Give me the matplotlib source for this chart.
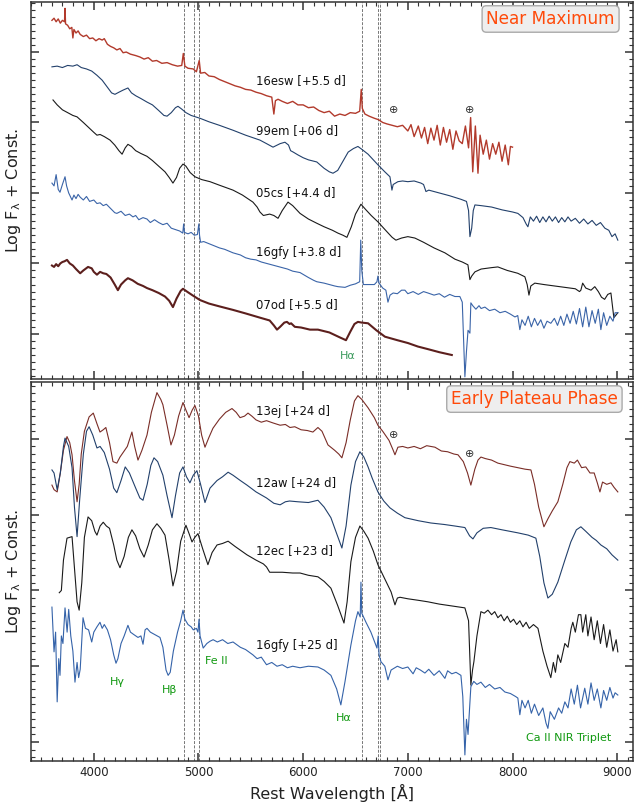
import matplotlib
matplotlib.use('Agg')
import matplotlib.pyplot as plt
from matplotlib.ticker import MultipleLocator

# ---- Near maximum spectra (wavelength [A], log flux + const) ----
esw16_wave = [3600, 3620, 3640, 3660, 3680, 3700, 3720, 3725, 3730, 3750, 3770, 3790, 3800, 3810, 3830,
              3850, 3870, 3900, 3930, 3960, 3990, 4020, 4050, 4080, 4100, 4130, 4160, 4190, 4220, 4250,
              4280, 4310, 4350, 4400, 4440, 4480, 4520, 4560, 4600, 4650, 4700, 4750, 4800, 4840, 4855,
              4870, 4900, 4950, 4980, 5007, 5020, 5060, 5100, 5150, 5200, 5250, 5300, 5350, 5400, 5450,
              5500, 5550, 5600, 5650, 5700, 5720, 5735, 5760, 5800, 5850, 5900, 5950, 6000, 6050, 6100,
              6150, 6200, 6250, 6300, 6350, 6400, 6450, 6500, 6540, 6555, 6565, 6590, 6630, 6680, 6720,
              6760, 6800, 6850, 6900, 6950, 7000, 7030, 7060, 7100, 7130, 7160, 7190, 7220, 7250, 7280,
              7310, 7340, 7370, 7400, 7430, 7460, 7490, 7520, 7550, 7580, 7600, 7620, 7645, 7670, 7690,
              7720, 7750, 7780, 7810, 7840, 7870, 7900, 7930, 7960, 7980, 8000]
esw16_flux = [4.45, 4.48, 4.43, 4.47, 4.41, 4.45, 4.43, 4.62, 4.40, 4.38, 4.33, 4.35, 4.20, 4.32, 4.27,
              4.30, 4.25, 4.22, 4.24, 4.19, 4.20, 4.16, 4.19, 4.17, 4.19, 4.11, 4.08, 4.06, 4.03, 4.05,
              3.99, 4.00, 3.97, 3.95, 3.93, 3.90, 3.92, 3.87, 3.88, 3.84, 3.85, 3.82, 3.80, 3.81, 3.98,
              3.80, 3.77, 3.76, 3.72, 3.88, 3.70, 3.71, 3.66, 3.65, 3.61, 3.58, 3.55, 3.52, 3.50, 3.47,
              3.46, 3.43, 3.41, 3.38, 3.36, 3.12, 3.31, 3.33, 3.30, 3.27, 3.30, 3.25, 3.25, 3.21, 3.22,
              3.17, 3.14, 3.16, 3.09, 3.12, 3.10, 3.14, 3.13, 3.16, 3.47, 3.20, 3.12, 3.09, 3.06, 3.04,
              3.00, 2.98, 2.96, 2.94, 2.96, 2.88, 2.97, 2.80, 2.95, 2.78, 2.93, 2.70, 2.92, 2.75, 2.96,
              2.68, 2.93, 2.72, 2.90, 2.62, 2.88, 2.74, 2.70, 2.95, 2.64, 3.07, 2.30, 2.95, 2.28, 2.82,
              2.55, 2.75, 2.48, 2.70, 2.55, 2.72, 2.45, 2.68, 2.40, 2.66, 2.65]

em99_wave = [3600, 3650, 3700, 3750, 3800, 3840, 3880, 3930, 3980, 4030, 4080, 4130, 4170, 4202, 4240,
             4280, 4326, 4360, 4400, 4450, 4508, 4560, 4620, 4670, 4700, 4740, 4780, 4804, 4840, 4880,
             4930, 5014, 5100, 5200, 5330, 5450, 5587, 5650, 5712, 5780, 5826, 5860, 5880, 5905, 5950,
             6000, 6050, 6130, 6200, 6250, 6285, 6330, 6380, 6430, 6480, 6523, 6560, 6620, 6714, 6780,
             6829, 6848, 6860, 6905, 6950, 7000, 7060, 7125, 7150, 7173, 7200, 7300, 7400, 7507, 7560,
             7580, 7593, 7610, 7625, 7641, 7700, 7800, 7900, 8000, 8051, 8100, 8130, 8147, 8170, 8200,
             8230, 8260, 8290, 8320, 8350, 8380, 8410, 8440, 8470, 8500, 8530, 8560, 8600, 8640, 8680,
             8720, 8760, 8800, 8840, 8882, 8920, 8950, 8980, 9006]
em99_flux = [3.79, 3.80, 3.78, 3.81, 3.80, 3.82, 3.78, 3.76, 3.73, 3.67, 3.60, 3.50, 3.42, 3.40, 3.43,
             3.46, 3.49, 3.42, 3.38, 3.34, 3.29, 3.25, 3.17, 3.10, 3.09, 3.14, 3.21, 3.23, 3.19, 3.14,
             3.10, 3.06, 3.01, 2.96, 2.89, 2.82, 2.75, 2.70, 2.65, 2.70, 2.72, 2.68, 2.60, 2.58, 2.54,
             2.50, 2.47, 2.44, 2.35, 2.30, 2.28, 2.32, 2.45, 2.58, 2.63, 2.66, 2.62, 2.55, 2.40, 2.30,
             2.23, 2.04, 2.12, 2.16, 2.17, 2.16, 2.17, 2.14, 2.12, 2.02, 2.04, 2.00, 1.96, 1.91, 1.88,
             1.75, 1.38, 1.50, 1.75, 1.83, 1.82, 1.80, 1.76, 1.73, 1.71, 1.65, 1.56, 1.52, 1.66, 1.60,
             1.67, 1.58, 1.66, 1.59, 1.67, 1.60, 1.66, 1.58, 1.65, 1.59, 1.66, 1.60, 1.64, 1.57, 1.63,
             1.56, 1.61, 1.54, 1.58, 1.50, 1.47, 1.38, 1.42, 1.33]

cs05_wave = [3610, 3650, 3700, 3750, 3800, 3840, 3900, 3950, 4000, 4030, 4060, 4100, 4155, 4200, 4240,
             4270, 4300, 4326, 4360, 4400, 4450, 4508, 4560, 4620, 4680, 4720, 4756, 4790, 4820, 4852,
             4880, 4920, 4966, 5030, 5110, 5200, 5330, 5420, 5520, 5560, 5587, 5620, 5680, 5720, 5760,
             5800, 5855, 5900, 5970, 6050, 6130, 6200, 6280, 6332, 6380, 6418, 6460, 6500, 6552, 6600,
             6650, 6714, 6800, 6850, 6886, 6940, 7000, 7067, 7150, 7250, 7354, 7450, 7520, 7574, 7593,
             7610, 7641, 7700, 7800, 7860, 7950, 8050, 8118, 8140, 8157, 8175, 8213, 8300, 8400, 8500,
             8600, 8640, 8653, 8670, 8700, 8750, 8786, 8820, 8850, 8880, 8910, 8940, 8968, 8985, 9006]
cs05_flux = [3.32, 3.25, 3.18, 3.14, 3.10, 3.08, 3.00, 2.93, 2.86, 2.82, 2.83, 2.80, 2.75, 2.68, 2.60,
             2.55, 2.64, 2.69, 2.66, 2.60, 2.56, 2.52, 2.46, 2.38, 2.30, 2.22, 2.14, 2.22, 2.35, 2.41,
             2.38, 2.29, 2.23, 2.19, 2.16, 2.11, 2.04, 1.97, 1.87, 1.80, 1.73, 1.68, 1.70, 1.68, 1.64,
             1.75, 1.87, 1.82, 1.71, 1.63, 1.57, 1.52, 1.47, 1.43, 1.40, 1.37, 1.52, 1.70, 1.84, 1.76,
             1.68, 1.59, 1.45, 1.37, 1.33, 1.36, 1.38, 1.36, 1.30, 1.22, 1.15, 1.06, 1.02, 0.98, 0.77,
             0.82, 0.88, 0.92, 0.94, 0.95, 0.90, 0.86, 0.81, 0.70, 0.55, 0.68, 0.72, 0.70, 0.68, 0.66,
             0.64, 0.60, 0.62, 0.72, 0.65, 0.62, 0.67, 0.60, 0.52, 0.49, 0.56, 0.58, 0.23, 0.26, 0.30]

gfy16a_wave = [3600, 3620, 3640, 3660, 3677, 3700, 3725, 3740, 3760, 3792, 3810, 3830, 3850, 3870, 3900,
               3930, 3960, 4000, 4030, 4060, 4090, 4120, 4160, 4200, 4220, 4260, 4300, 4340, 4374, 4400,
               4430, 4470, 4508, 4540, 4580, 4620, 4660, 4700, 4740, 4780, 4820, 4850, 4858, 4866, 4900,
               4930, 4960, 4990, 5003, 5010, 5020, 5050, 5100, 5150, 5200, 5250, 5330, 5400, 5450, 5500,
               5550, 5600, 5650, 5700, 5750, 5800, 5850, 5900, 5970, 6050, 6100, 6130, 6200, 6250, 6300,
               6332, 6400, 6450, 6500, 6540, 6550, 6560, 6575, 6620, 6680, 6705, 6714, 6725, 6760, 6790,
               6810, 6830, 6860, 6900, 6940, 6972, 7000, 7050, 7100, 7150, 7192, 7250, 7300, 7350, 7400,
               7450, 7497, 7520, 7545, 7560, 7575, 7593, 7602, 7620, 7650, 7680, 7700, 7736, 7780, 7830,
               7880, 7930, 7980, 8023, 8050, 8070, 8090, 8120, 8150, 8180, 8210, 8240, 8270, 8300, 8330,
               8366, 8400, 8430, 8460, 8490, 8520, 8550, 8580, 8610, 8640, 8670, 8700, 8730, 8760, 8790,
               8820, 8844, 8870, 8900, 8930, 8960, 8980, 9006]
gfy16a_flux = [2.14, 2.10, 2.26, 2.05, 2.01, 2.12, 2.23, 2.10, 2.00, 1.90, 1.97, 1.92, 1.98, 1.94, 1.90,
               1.95, 1.88, 1.90, 1.85, 1.86, 1.82, 1.84, 1.78, 1.72, 1.71, 1.74, 1.68, 1.70, 1.66, 1.68,
               1.62, 1.65, 1.63, 1.58, 1.62, 1.58, 1.55, 1.57, 1.50, 1.48, 1.46, 1.43, 1.56, 1.44, 1.42,
               1.44, 1.40, 1.41, 1.56, 1.40, 1.30, 1.31, 1.28, 1.25, 1.22, 1.20, 1.15, 1.12, 1.08, 1.06,
               1.05, 1.02, 1.00, 0.98, 0.96, 0.94, 0.92, 0.89, 0.87, 0.80, 0.76, 0.74, 0.72, 0.70, 0.68,
               0.67, 0.66, 0.69, 0.71, 0.74, 1.33, 0.90, 0.70, 0.70, 0.70, 0.74, 0.82, 0.72, 0.65, 0.62,
               0.45, 0.55, 0.58, 0.57, 0.62, 0.62, 0.57, 0.60, 0.56, 0.60, 0.58, 0.55, 0.57, 0.52, 0.56,
               0.53, 0.53, 0.45, -0.61, -0.25, 0.05, 0.01, 0.44, 0.40, 0.35, 0.40, 0.36, 0.38, 0.33, 0.35,
               0.30, 0.32, 0.28, 0.24, 0.26, 0.06, 0.20, 0.12, 0.25, 0.10, 0.22, 0.12, 0.20, 0.08, 0.18,
               0.15, 0.22, 0.12, 0.25, 0.12, 0.28, 0.15, 0.32, 0.14, 0.36, 0.10, 0.38, 0.10, 0.33, 0.15,
               0.35, 0.06, 0.30, 0.12, 0.25, 0.18, 0.30, 0.30]

od07_wave = [3600, 3620, 3640, 3660, 3680, 3700, 3720, 3744, 3770, 3800, 3830, 3870, 3900, 3945, 3980,
             4000, 4030, 4060, 4090, 4120, 4160, 4200, 4230, 4260, 4300, 4326, 4370, 4420, 4470, 4508,
             4560, 4620, 4680, 4720, 4756, 4790, 4830, 4852, 4890, 4940, 5014, 5100, 5200, 5330, 5450,
             5587, 5680, 5720, 5750, 5780, 5820, 5845, 5870, 5885, 5920, 5980, 6065, 6141, 6250, 6350,
             6409, 6450, 6490, 6523, 6560, 6620, 6700, 6781, 6900, 7000, 7096, 7200, 7300, 7420]
od07_flux = [0.97, 0.95, 0.99, 0.96, 1.00, 1.02, 1.03, 1.05, 1.00, 0.97, 0.92, 0.86, 0.90, 0.95, 0.93,
             0.88, 0.84, 0.88, 0.86, 0.85, 0.80, 0.70, 0.62, 0.70, 0.76, 0.79, 0.76, 0.71, 0.68, 0.65,
             0.62, 0.58, 0.53, 0.47, 0.38, 0.50, 0.61, 0.64, 0.60, 0.55, 0.48, 0.43, 0.39, 0.34, 0.29,
             0.23, 0.19, 0.12, 0.06, 0.10, 0.16, 0.17, 0.14, 0.15, 0.10, 0.09, 0.06, 0.06, 0.02, -0.05,
             -0.09, 0.03, 0.14, 0.17, 0.16, 0.15, 0.05, -0.04, -0.09, -0.13, -0.18, -0.22, -0.26, -0.30]

# ---- Early plateau spectra ----
ej13_wave = [3600, 3620, 3650, 3680, 3710, 3744, 3770, 3792, 3815, 3840, 3860, 3880, 3910, 3955, 3995,
             4030, 4059, 4090, 4115, 4150, 4183, 4220, 4250, 4280, 4320, 4364, 4390, 4422, 4460, 4508,
             4550, 4603, 4640, 4660, 4700, 4737, 4770, 4810, 4852, 4880, 4910, 4940, 4966, 5000, 5030,
             5062, 5100, 5138, 5200, 5260, 5320, 5360, 5397, 5440, 5473, 5510, 5550, 5600, 5650, 5712,
             5780, 5830, 5874, 5920, 5980, 6040, 6093, 6141, 6180, 6237, 6300, 6340, 6370, 6410, 6450,
             6490, 6523, 6560, 6620, 6680, 6714, 6760, 6820, 6860, 6877, 6905, 6950, 7000, 7060, 7120,
             7180, 7259, 7320, 7380, 7440, 7479, 7530, 7570, 7602, 7640, 7670, 7698, 7740, 7800, 7860,
             7920, 7980, 8051, 8120, 8176, 8210, 8250, 8300, 8340, 8380, 8433, 8480, 8520, 8548, 8590,
             8620, 8660, 8700, 8740, 8780, 8810, 8835, 8860, 8900, 8940, 8970, 9006]
ej13_flux = [3.39, 3.33, 3.30, 3.55, 3.85, 4.03, 3.95, 3.79, 3.45, 3.17, 3.40, 3.80, 4.10, 4.29, 4.34,
             4.20, 4.09, 4.12, 4.15, 3.95, 3.70, 3.68, 3.76, 3.82, 3.90, 4.09, 3.90, 3.72, 3.85, 4.05,
             4.35, 4.61, 4.52, 4.45, 4.18, 3.92, 4.05, 4.30, 4.48, 4.38, 4.28, 4.38, 4.44, 4.30, 4.05,
             3.89, 4.02, 4.14, 4.26, 4.35, 4.40, 4.35, 4.28, 4.30, 4.34, 4.30, 4.25, 4.22, 4.24, 4.21,
             4.18, 4.19, 4.15, 4.16, 4.12, 4.11, 4.09, 4.15, 4.10, 3.92, 3.85, 3.80, 3.75, 3.95, 4.25,
             4.50, 4.57, 4.52, 4.41, 4.28, 4.18, 4.10, 3.98, 3.85, 3.79, 3.89, 3.90, 3.88, 3.90, 3.87,
             3.91, 3.89, 3.84, 3.83, 3.80, 3.79, 3.70, 3.55, 3.39, 3.60, 3.72, 3.76, 3.74, 3.72, 3.68,
             3.66, 3.64, 3.62, 3.60, 3.59, 3.40, 3.10, 2.84, 2.95, 3.05, 3.17, 3.40, 3.62, 3.70, 3.68,
             3.72, 3.62, 3.63, 3.55, 3.55, 3.42, 3.30, 3.43, 3.40, 3.42, 3.36, 3.30]

aw12_wave = [3600, 3620, 3650, 3680, 3710, 3725, 3760, 3792, 3815, 3840, 3865, 3900, 3930, 3955, 3990,
             4030, 4060, 4100, 4150, 4190, 4220, 4260, 4300, 4340, 4400, 4440, 4470, 4510, 4545, 4575,
             4610, 4660, 4700, 4747, 4780, 4820, 4852, 4885, 4918, 4950, 4985, 5020, 5062, 5110, 5177,
             5230, 5283, 5330, 5400, 5463, 5550, 5650, 5720, 5780, 5830, 5870, 5950, 6050, 6141, 6200,
             6265, 6320, 6370, 6410, 6456, 6500, 6542, 6580, 6620, 6660, 6714, 6770, 6829, 6900, 6972,
             7100, 7220, 7350, 7450, 7545, 7590, 7622, 7660, 7720, 7793, 7900, 8051, 8150, 8223, 8260,
             8300, 8338, 8380, 8433, 8500, 8557, 8610, 8653, 8700, 8760, 8800, 8844, 8900, 8950, 9006]
aw12_flux = [3.59, 3.55, 3.33, 3.55, 3.90, 4.01, 3.90, 3.62, 3.10, 2.71, 3.20, 3.80, 4.10, 4.16, 4.05,
             3.88, 3.90, 3.82, 3.60, 3.35, 3.29, 3.45, 3.63, 3.55, 3.35, 3.22, 3.19, 3.40, 3.65, 3.75,
             3.70, 3.52, 3.25, 2.96, 3.25, 3.55, 3.63, 3.50, 3.42, 3.52, 3.58, 3.40, 3.16, 3.35, 3.45,
             3.50, 3.56, 3.52, 3.45, 3.39, 3.30, 3.22, 3.15, 3.13, 3.17, 3.18, 3.17, 3.16, 3.19, 3.10,
             2.96, 2.75, 2.56, 2.85, 3.39, 3.70, 3.83, 3.76, 3.63, 3.48, 3.30, 3.18, 3.09, 3.02, 2.96,
             2.92, 2.89, 2.87, 2.85, 2.83, 2.72, 2.68, 2.76, 2.82, 2.83, 2.80, 2.76, 2.73, 2.69, 2.45,
             2.10, 1.90, 1.95, 2.11, 2.40, 2.64, 2.80, 2.84, 2.78, 2.70, 2.66, 2.60, 2.55, 2.47, 2.40]

ec12_wave = [3670, 3690, 3710, 3744, 3792, 3815, 3840, 3860, 3885, 3910, 3945, 3980, 4010, 4030, 4060,
             4090, 4120, 4150, 4190, 4220, 4250, 4290, 4330, 4364, 4400, 4440, 4480, 4520, 4560, 4603,
             4640, 4680, 4720, 4756, 4790, 4830, 4880, 4910, 4938, 4965, 4995, 5040, 5090, 5130, 5177,
             5230, 5283, 5350, 5463, 5550, 5620, 5650, 5680, 5700, 5800, 5900, 5970, 6050, 6141, 6200,
             6265, 6330, 6390, 6420, 6456, 6500, 6542, 6580, 6620, 6670, 6714, 6780, 6840, 6877, 6900,
             6925, 7000, 7100, 7192, 7300, 7400, 7500, 7545, 7580, 7602, 7618, 7631, 7660, 7698, 7730,
             7765, 7800, 7830, 7860, 7890, 7920, 7950, 7980, 8010, 8040, 8070, 8100, 8130, 8160, 8200,
             8243, 8290, 8330, 8366, 8390, 8410, 8433, 8460, 8500, 8530, 8560, 8576, 8600, 8630, 8653,
             8670, 8700, 8720, 8750, 8780, 8810, 8840, 8870, 8900, 8930, 8960, 8990, 9006]
ec12_flux = [1.97, 2.00, 2.40, 2.69, 2.71, 2.30, 1.85, 1.74, 2.10, 2.70, 2.97, 2.92, 2.78, 2.73, 2.85,
             2.90, 2.85, 2.82, 2.60, 2.40, 2.30, 2.45, 2.70, 2.80, 2.72, 2.55, 2.44, 2.60, 2.80, 2.88,
             2.82, 2.73, 2.40, 2.06, 2.25, 2.65, 2.86, 2.75, 2.64, 2.70, 2.75, 2.55, 2.34, 2.50, 2.60,
             2.62, 2.65, 2.58, 2.47, 2.40, 2.35, 2.31, 2.24, 2.24, 2.24, 2.23, 2.23, 2.20, 2.18, 2.12,
             2.03, 1.80, 1.57, 1.85, 2.38, 2.70, 2.85, 2.78, 2.69, 2.52, 2.34, 2.15, 1.98, 1.81, 1.90,
             1.91, 1.89, 1.87, 1.85, 1.82, 1.80, 1.78, 1.77, 1.60, 0.75, 0.95, 1.06, 1.40, 1.72, 1.70,
             1.74, 1.68, 1.72, 1.64, 1.68, 1.60, 1.66, 1.58, 1.62, 1.55, 1.60, 1.52, 1.58, 1.50, 1.55,
             1.50, 1.20, 1.00, 0.85, 1.05, 0.92, 1.15, 1.05, 1.30, 1.25, 1.50, 1.58, 1.45, 1.68, 1.68,
             1.45, 1.68, 1.40, 1.65, 1.35, 1.60, 1.30, 1.55, 1.25, 1.48, 1.20, 1.35, 1.19]

gfy16b_wave = [3600, 3620, 3635, 3650, 3665, 3677, 3690, 3705, 3725, 3745, 3760, 3780, 3800, 3820, 3840,
               3855, 3870, 3897, 3920, 3950, 3980, 4000, 4030, 4059, 4080, 4100, 4130, 4160, 4190, 4212,
               4230, 4260, 4290, 4326, 4350, 4380, 4422, 4450, 4470, 4490, 4508, 4540, 4580, 4632, 4660,
               4690, 4710, 4730, 4760, 4800, 4830, 4852, 4870, 4900, 4930, 4950, 4980, 4995, 5005, 5015,
               5045, 5080, 5110, 5140, 5180, 5230, 5280, 5330, 5400, 5450, 5520, 5560, 5600, 5650, 5700,
               5750, 5800, 5850, 5900, 5970, 6050, 6141, 6200, 6265, 6320, 6360, 6400, 6456, 6500, 6523,
               6545, 6552, 6560, 6600, 6647, 6705, 6717, 6725, 6743, 6780, 6810, 6840, 6900, 6950, 7000,
               7050, 7080, 7120, 7163, 7200, 7250, 7300, 7354, 7380, 7420, 7460, 7507, 7525, 7545, 7560,
               7575, 7602, 7630, 7660, 7698, 7740, 7780, 7830, 7880, 7927, 7980, 8030, 8051, 8070, 8090,
               8120, 8150, 8180, 8210, 8250, 8290, 8320, 8338, 8360, 8400, 8440, 8470, 8500, 8530, 8560,
               8590, 8620, 8650, 8690, 8720, 8750, 8780, 8810, 8844, 8870, 8900, 8930, 8960, 8980, 9006]
gfy16b_flux = [1.78, 1.19, 1.45, 0.53, 1.10, 0.88, 1.40, 1.30, 1.77, 1.45, 1.75, 1.40, 1.20, 0.79, 1.05,
               0.85, 0.96, 1.64, 1.50, 1.48, 1.32, 1.45, 1.52, 1.58, 1.50, 1.55, 1.48, 1.35, 1.15, 1.04,
               1.10, 1.30, 1.40, 1.54, 1.45, 1.42, 1.38, 1.40, 1.29, 1.48, 1.50, 1.45, 1.42, 1.38, 1.25,
               0.95, 0.88, 0.92, 1.20, 1.45, 1.60, 1.74, 1.62, 1.55, 1.52, 1.48, 1.50, 1.45, 1.62, 1.40,
               1.24, 1.30, 1.33, 1.35, 1.32, 1.35, 1.30, 1.32, 1.25, 1.22, 1.15, 1.10, 1.12, 1.02, 1.05,
               1.00, 1.02, 0.98, 1.00, 0.98, 1.00, 0.99, 0.95, 0.88, 0.70, 0.49, 0.80, 1.28, 1.60, 1.72,
               1.65, 2.11, 1.70, 1.58, 1.45, 1.24, 1.40, 1.15, 1.06, 1.00, 0.82, 0.95, 1.00, 0.97, 0.99,
               0.90, 0.98, 0.95, 0.91, 0.96, 0.88, 0.94, 0.84, 0.94, 0.90, 0.92, 0.88, 0.60, -0.17, 0.30,
               0.10, 0.73, 0.80, 0.76, 0.79, 0.72, 0.76, 0.70, 0.72, 0.66, 0.64, 0.60, 0.58, 0.36, 0.55,
               0.45, 0.55, 0.38, 0.50, 0.35, 0.45, 0.25, 0.18, 0.40, 0.30, 0.45, 0.38, 0.53, 0.45, 0.70,
               0.50, 0.75, 0.45, 0.71, 0.50, 0.78, 0.55, 0.70, 0.45, 0.68, 0.55, 0.72, 0.58, 0.65, 0.62]

top_labels = ['16esw [+5.5 d]', '99em [+06 d]', '05cs [+4.4 d]', '16gfy [+3.8 d]', '07od [+5.5 d]']
top_label_y = [3.60, 2.89, 2.00, 1.15, 0.41]
bottom_labels = ['13ej [+24 d]', '12aw [+24 d]', '12ec [+23 d]', '16gfy [+25 d]']
bottom_label_y = [4.36, 3.43, 2.53, 1.28]
label_wave = 5550

narrow_lines = [4861, 4959, 5007, 6563, 6717, 6731]
telluric_wave = [6865, 7593]
top_telluric_y = [3.18, 3.18]
bottom_telluric_y = [4.05, 3.80]

line_ids = ['H\u03b3', 'H\u03b2', 'Fe II', 'H\u03b1', 'Ca II NIR Triplet']
line_id_wave = [4222, 4728, 5175, 6390, 8540]
line_id_y = [0.79, 0.69, 1.07, 0.32, 0.05]


def style_axis(ax):
  for side in ax.spines.values():
    side.set_color('#333333')
    side.set_linewidth(1.1)
  ax.xaxis.set_major_locator(MultipleLocator(1000))
  ax.xaxis.set_minor_locator(MultipleLocator(100))
  ax.yaxis.set_major_locator(MultipleLocator(1))
  ax.yaxis.set_minor_locator(MultipleLocator(0.1))
  ax.tick_params(which='both', direction='in', top=True, right=True, color='#333333', labelleft=False)
  ax.tick_params(which='major', length=5.5, width=1.1, labelsize=8.5, labelcolor='#222222')
  ax.tick_params(which='minor', length=3, width=0.8)
  ax.set_ylabel('Log F$_{\\mathregular{\u03bb}}$ + Const.', fontsize=11.5, color='#222222', labelpad=6)
  for w in narrow_lines:
    ax.axvline(w, color='#777777', ls=(0, (3, 1.5)), lw=0.7, zorder=0)


def main():
  fig = plt.figure(figsize=(6.38, 8.08), dpi=100)
  ax1 = fig.add_axes([0.0486, 0.531, 0.9434, 0.4665])
  ax2 = fig.add_axes([0.0486, 0.0582, 0.9434, 0.469], sharex=ax1)

  ax1.plot(esw16_wave, esw16_flux, color='#b23a2c', lw=1.0)
  ax1.plot(em99_wave, em99_flux, color='#22406b', lw=0.8)
  ax1.plot(cs05_wave, cs05_flux, color='#1a1a1a', lw=0.8)
  ax1.plot(gfy16a_wave, gfy16a_flux, color='#3a64a8', lw=0.8)
  ax1.plot(od07_wave, od07_flux, color='#5c1f1d', lw=1.5)

  ax2.plot(ej13_wave, ej13_flux, color='#7a2d27', lw=0.8)
  ax2.plot(aw12_wave, aw12_flux, color='#22406b', lw=0.8)
  ax2.plot(ec12_wave, ec12_flux, color='#1a1a1a', lw=0.8)
  ax2.plot(gfy16b_wave, gfy16b_flux, color='#3563a9', lw=0.8)

  for ax in (ax1, ax2):
    style_axis(ax)
  ax1.set_xlim(3400, 9150)
  ax1.set_ylim(-0.64, 4.71)
  ax2.set_ylim(-0.25, 4.75)
  ax1.tick_params(labelbottom=False)
  ax2.set_xlabel('Rest Wavelength [\u00c5]', fontsize=11.5, color='#222222')

  for name, y in zip(top_labels, top_label_y):
    ax1.text(label_wave, y, name, fontsize=8.4, va='center', ha='left', color='#111111')
  for name, y in zip(bottom_labels, bottom_label_y):
    ax2.text(label_wave, y, name, fontsize=8.4, va='center', ha='left', color='#111111')

  for w, y in zip(telluric_wave, top_telluric_y):
    ax1.text(w, y, '\u2295', fontsize=8, ha='center', va='center', color='#333333')
  for w, y in zip(telluric_wave, bottom_telluric_y):
    ax2.text(w, y, '\u2295', fontsize=8, ha='center', va='center', color='#333333')

  ax1.text(6428, -0.31, 'H\u03b1', fontsize=8, ha='center', va='center', color='#3a9a5c')
  for name, w, y in zip(line_ids, line_id_wave, line_id_y):
    ax2.text(w, y, name, fontsize=8, ha='center', va='center', color='#119911')

  box = dict(boxstyle='round,pad=0.25', facecolor='#eeeeee', edgecolor='#aaaaaa')
  ax1.text(0.97, 0.955, 'Near Maximum', transform=ax1.transAxes, fontsize=12.2,
           color='#ff4a0a', ha='right', va='center', bbox=box)
  ax2.text(0.975, 0.955, 'Early Plateau Phase', transform=ax2.transAxes, fontsize=12.2,
           color='#ff4a0a', ha='right', va='center', bbox=box)

  fig.savefig('out.png', dpi=100)
  plt.close(fig)


main()
